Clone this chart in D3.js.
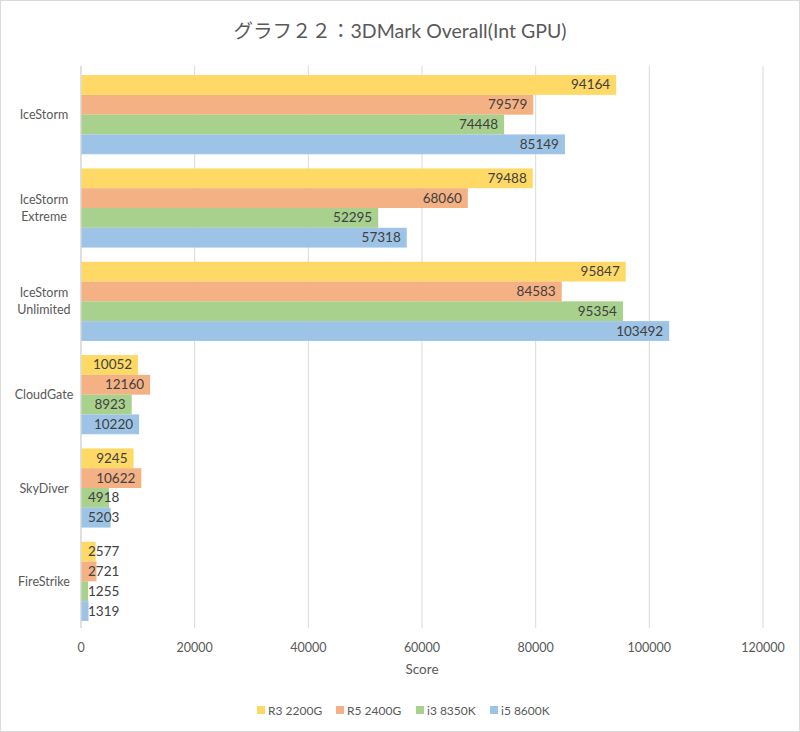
<!DOCTYPE html>
<html><head><meta charset="utf-8">
<script src="https://cdn.jsdelivr.net/npm/d3@7"></script>
<style>
body{margin:0;background:#fff;}
text{font-family:Lato,"Noto Sans CJK JP",sans-serif;}
</style></head>
<body><svg id="c" width="800" height="732"></svg>
<script>
const categories = ["IceStorm", "IceStorm\nExtreme", "IceStorm\nUnlimited", "CloudGate", "SkyDiver", "FireStrike"];
const seriesNames = ["R3 2200G", "R5 2400G", "i3 8350K", "i5 8600K"];
const seriesColors = ["#FFD966", "#F4B183", "#A9D18E", "#9DC3E6"];
const r3_2200G = [94164, 79488, 95847, 10052, 9245, 2577];
const r5_2400G = [79579, 68060, 84583, 12160, 10622, 2721];
const i3_8350K = [74448, 52295, 95354, 8923, 4918, 1255];
const i5_8600K = [85149, 57318, 103492, 10220, 5203, 1319];
const xTicks = [0, 20000, 40000, 60000, 80000, 100000, 120000];
const title = "グラフ２２：3DMark Overall(Int GPU)";
const xTitle = "Score";

(function(){
const series = [r3_2200G, r5_2400G, i3_8350K, i5_8600K];
const svg = d3.select("#c");
svg.append("rect").attr("x",0.5).attr("y",0.5).attr("width",799).attr("height",731)
  .attr("fill","#fff").attr("stroke","#d9d9d9");

const pL = 81, pR = 763, pT = 68, pB = 628;
const x = d3.scaleLinear().domain([0,120000]).range([pL,pR]);
const y = d3.scaleBand().domain(categories).range([pT,pB]).paddingInner(0.152).paddingOuter(0.076);
const ys = d3.scaleBand().domain(d3.range(4)).range([0,y.bandwidth()]);

svg.append("g").selectAll("line").data(xTicks).join("line")
  .attr("x1",d=>x(d)).attr("x2",d=>x(d)).attr("y1",pT-2).attr("y2",pB)
  .attr("stroke", d=> d===0 ? "#bfbfbf" : "#d9d9d9").attr("stroke-width",1);

svg.append("g").selectAll("text").data(xTicks).join("text")
  .attr("x",d=>x(d)).attr("y",652).attr("text-anchor","middle")
  .attr("font-size",12.5).attr("fill","#595959").text(d=>d);

svg.append("text").attr("x",(pL+pR)/2).attr("y",674).attr("text-anchor","middle")
  .attr("font-size",13.5).attr("fill","#595959").text(xTitle);

svg.append("text").attr("x",400).attr("y",38).attr("text-anchor","middle")
  .attr("font-size",19.5).attr("fill","#595959").text(title);

const cl = svg.append("g");
categories.forEach(c=>{
  const lines = c.split("\n");
  const cy = y(c)+y.bandwidth()/2;
  lines.forEach((ln,i)=>{
    cl.append("text").attr("x",44).attr("y",cy + (i-(lines.length-1)/2)*17 + 4.5)
      .attr("text-anchor","middle").attr("font-size",12.5).attr("fill","#595959").text(ln);
  });
});

series.forEach((vals,si)=>{
  const g = svg.append("g");
  vals.forEach((v,ci)=>{
    const by = y(categories[ci]) + ys(si);
    g.append("rect").attr("x",x(0)+0.5).attr("y",by).attr("width",x(v)-x(0)-0.5)
      .attr("height",ys.bandwidth()).attr("fill",seriesColors[si]);
    const t = g.append("text").attr("y",by+ys.bandwidth()/2+4.5)
      .attr("font-size",13.5).attr("fill","#404040").attr("text-anchor","end").text(v);
    const w = t.node().getComputedTextLength();
    const xe = Math.max(x(v)-6, x(0)+7+w);
    t.attr("x",xe);
  });
});

const legX = [257, 336, 416, 490];
seriesNames.forEach((n,i)=>{
  svg.append("rect").attr("x",legX[i]).attr("y",706).attr("width",8).attr("height",8).attr("fill",seriesColors[i]);
  svg.append("text").attr("x",legX[i]+11).attr("y",714.5).attr("font-size",12).attr("fill","#595959").text(n);
});
})();
</script></body></html>
